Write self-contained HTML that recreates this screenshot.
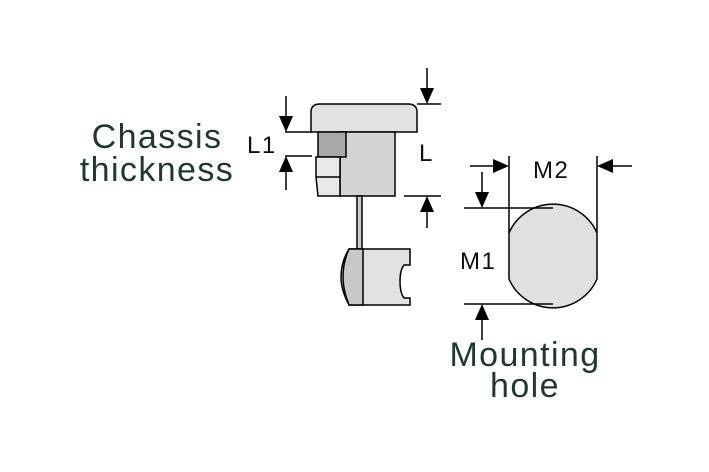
<!DOCTYPE html>
<html><head><style>
html,body{margin:0;padding:0;background:#fff}
svg{display:block}
text{font-family:"Liberation Sans",sans-serif}
</style></head><body>
<svg width="709" height="472" viewBox="0 0 709 472" xmlns="http://www.w3.org/2000/svg">
<g stroke="#000" stroke-width="1.5">
<path d="M311,132 L311,112 Q311,104 320,104 L408,104 Q417,104 417,112 L417,132 Z" fill="#e2e2e2"/>
<rect x="340" y="132" width="55" height="64" fill="#d4d4d4"/>
<rect x="318" y="132" width="28" height="25" fill="#a8a8a8"/>
<path d="M316,157 L340,157 L340,196 L318,196 L316,177 Z" fill="#e8e8e8"/>
<line x1="316" y1="177" x2="340" y2="177"/>
<rect x="357" y="196" width="5" height="53" fill="#ccc"/>
<path d="M349,249 L410,249 L410,265 L404,265 Q400,270 400,281 Q400,293 404,298 L410,298 L410,305 L349,305 Q341,290 341,277 Q341,262 349,249 Z" fill="#e2e2e2"/>
<path d="M349,249 L363,249 L363,305 L349,305 Q343,290 343,277 Q343,262 349,249 Z" fill="#c8c8c8"/>
<line x1="417" y1="104" x2="441" y2="104"/>
<line x1="427" y1="68" x2="427" y2="90"/>
<line x1="285" y1="132" x2="311" y2="132"/>
<line x1="286" y1="96" x2="286" y2="118"/>
<line x1="285" y1="156" x2="312" y2="156"/>
<line x1="286" y1="170" x2="286" y2="190"/>
<line x1="404" y1="196" x2="441" y2="196"/>
<line x1="427" y1="210" x2="427" y2="228"/>
<path d="M509,233 A48,48 0 0 1 597,233 L597,279 A48,48 0 0 1 509,279 Z" fill="#e0e0e0"/>
<line x1="509" y1="156" x2="509" y2="233"/>
<line x1="597" y1="156" x2="597" y2="233"/>
<line x1="464" y1="208" x2="553" y2="208"/>
<line x1="464" y1="304" x2="553" y2="304"/>
<line x1="482" y1="172" x2="482" y2="194"/>
<line x1="482" y1="318" x2="482" y2="340"/>
<line x1="470" y1="166" x2="495" y2="166"/>
<line x1="611" y1="166" x2="632" y2="166"/>
</g>
<g fill="#000">
<polygon points="420,88 434,88 427,104"/>
<polygon points="279,116 293,116 286,132"/>
<polygon points="279,172 293,172 286,156"/>
<polygon points="420,212 434,212 427,196"/>
<polygon points="475,192 489,192 482,208"/>
<polygon points="475,320 489,320 482,304"/>
<polygon points="493,159 493,173 509,166"/>
<polygon points="613,159 613,173 597,166"/>
</g>
<g font-size="24" fill="#111" letter-spacing="1.5">
<text x="247" y="153">L1</text>
<text x="419" y="161">L</text>
<text x="533" y="178">M2</text>
<text x="460" y="269">M1</text>
</g>
<g font-size="34" fill="#1e3a2c" text-anchor="middle" letter-spacing="1.4">
<text x="157" y="148">Chassis</text>
<text x="157" y="181">thickness</text>
<text x="525" y="366">Mounting</text>
<text x="525" y="397">hole</text>
</g>
</svg>
</body></html>
